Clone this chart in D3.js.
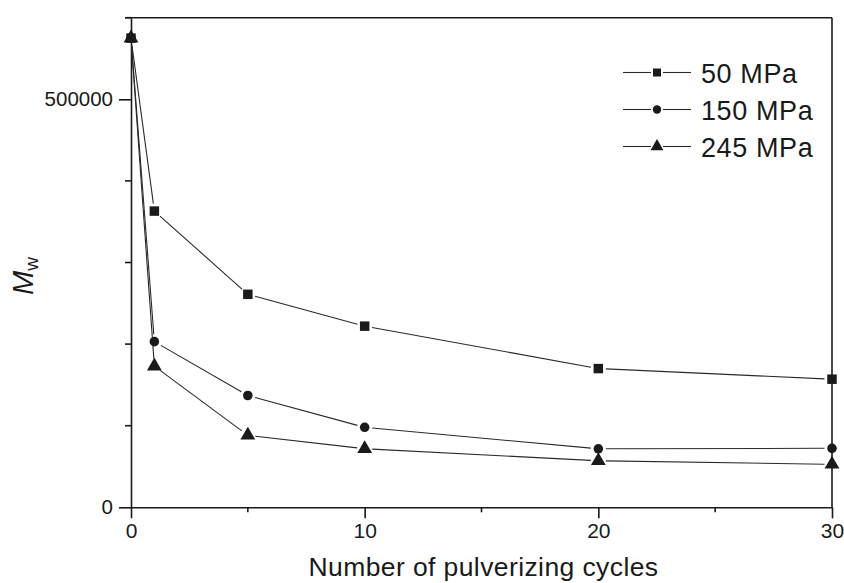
<html>
<head>
<script src="https://d3js.org/d3.v7.min.js"></script>
<style>
  body { margin: 0; background: #fff; }
  svg text { font-family: "Liberation Sans", Arial, Helvetica, sans-serif; fill: #1a1a1a; }
</style>
</head>
<body>
<svg id="chart" width="844" height="583"></svg>
<script>
// data
const cycles = [0, 1, 5, 10, 20, 30];
const mw50 = [575000, 363000, 261000, 222000, 170000, 157000];
const mw150 = [575000, 203000, 137000, 98000, 71700, 72300];
const mw245 = [575000, 173000, 88200, 71800, 57000, 52700];
const seriesNames = ["50 MPa", "150 MPa", "245 MPa"];
const seriesSymbols = [d3.symbolSquare, d3.symbolCircle, d3.symbolTriangle];
const xMajorTicks = [0, 10, 20, 30];
const xMinorTicks = [5, 15, 25];
const yMajorTicks = [0, 500000];
const yMinorTicks = [100000, 200000, 300000, 400000, 600000];

const allSeries = [mw50, mw150, mw245];

var plotLeft = 131, plotRight = 832, plotTop = 17.7, plotBottom = 507.3;
var ink = "#1a1a1a";

const x = d3.scaleLinear().domain([0, 30]).range([plotLeft, plotRight]);
const y = d3.scaleLinear().domain([0, 600000]).range([plotBottom, plotTop]);

const svg = d3.select("#chart");

// frame top and right
svg.append("line").attr("x1", plotLeft - 6).attr("x2", plotRight).attr("y1", plotTop).attr("y2", plotTop)
  .attr("stroke", ink).attr("stroke-width", 1.6);
svg.append("line").attr("x1", plotRight).attr("x2", plotRight).attr("y1", plotTop).attr("y2", plotBottom)
  .attr("stroke", ink).attr("stroke-width", 1.6);

// x axis
const xAxis = svg.append("g").attr("transform", "translate(0," + plotBottom + ")")
  .call(d3.axisBottom(x).tickValues(xMajorTicks).tickSize(11).tickPadding(5).tickSizeOuter(0));
xAxis.selectAll("text").style("font-size", "21px");
xAxis.append("g").selectAll("line").data(xMinorTicks).enter().append("line")
  .attr("x1", d => x(d)).attr("x2", d => x(d)).attr("y1", 0).attr("y2", 5)
  .attr("stroke", ink).attr("stroke-width", 1.6);

// y axis
const yAxis = svg.append("g").attr("transform", "translate(" + plotLeft + ",0)")
  .call(d3.axisLeft(y).tickValues(yMajorTicks).tickFormat(d3.format("d")).tickSize(12).tickPadding(6).tickSizeOuter(0));
yAxis.selectAll("text").style("font-size", "20.5px");
yAxis.append("g").selectAll("line").data(yMinorTicks).enter().append("line")
  .attr("x1", 0).attr("x2", -6).attr("y1", d => y(d)).attr("y2", d => y(d))
  .attr("stroke", ink).attr("stroke-width", 1.6);

svg.selectAll(".domain, .tick line").attr("stroke", ink).attr("stroke-width", 1.6);
svg.selectAll(".tick text").attr("fill", ink);

// series: lines stop short of the markers
var gap = 7.5;
allSeries.forEach(function(vals, s) {
  var g = svg.append("g");
  for (var i = 0; i < cycles.length - 1; i++) {
    var x1 = x(cycles[i]), y1 = y(vals[i]), x2 = x(cycles[i + 1]), y2 = y(vals[i + 1]);
    var len = Math.hypot(x2 - x1, y2 - y1);
    var ux = (x2 - x1) / len, uy = (y2 - y1) / len;
    g.append("line")
      .attr("x1", x1 + ux * gap).attr("y1", y1 + uy * gap)
      .attr("x2", x2 - ux * gap).attr("y2", y2 - uy * gap)
      .attr("stroke", "#2a2a2a").attr("stroke-width", 1.1);
  }
});

var symSize = [90, 72, 95];
allSeries.forEach(function(vals, s) {
  svg.append("g").selectAll("path").data(vals).enter().append("path")
    .attr("d", d3.symbol().type(seriesSymbols[s]).size(symSize[s]))
    .attr("transform", (d, i) => "translate(" + x(cycles[i]) + "," + y(d) + ")")
    .attr("fill", ink);
});

// legend
var legX = 623, legY = 72.5, legStep = 37;
var legSize = [64, 56, 72];
seriesNames.forEach(function(name, i) {
  var ly = legY + i * legStep;
  var lg = svg.append("g");
  lg.append("line").attr("x1", legX).attr("x2", legX + 28).attr("y1", ly).attr("y2", ly)
    .attr("stroke", "#2a2a2a").attr("stroke-width", 1.1);
  lg.append("line").attr("x1", legX + 40).attr("x2", legX + 68).attr("y1", ly).attr("y2", ly)
    .attr("stroke", "#2a2a2a").attr("stroke-width", 1.1);
  lg.append("path").attr("d", d3.symbol().type(seriesSymbols[i]).size(legSize[i]))
    .attr("transform", "translate(" + (legX + 34) + "," + ly + ")").attr("fill", ink);
  lg.append("text").text(name).attr("x", 701).attr("y", ly + 10.5)
    .style("font-size", "27px").style("letter-spacing", "0.6px");
});

// axis titles
svg.append("text").text("Number of pulverizing cycles")
  .attr("x", (plotLeft + plotRight) / 2 + 2).attr("y", 576)
  .attr("text-anchor", "middle").style("font-size", "26.5px").style("letter-spacing", "0.4px");

var yl = svg.append("text").attr("transform", "translate(33,276) rotate(-90)")
  .attr("text-anchor", "middle").style("font-size", "29px");
yl.append("tspan").text("M").style("font-style", "italic");
yl.append("tspan").text("w").attr("dy", 5).style("font-size", "19px");
</script>
</body>
</html>
